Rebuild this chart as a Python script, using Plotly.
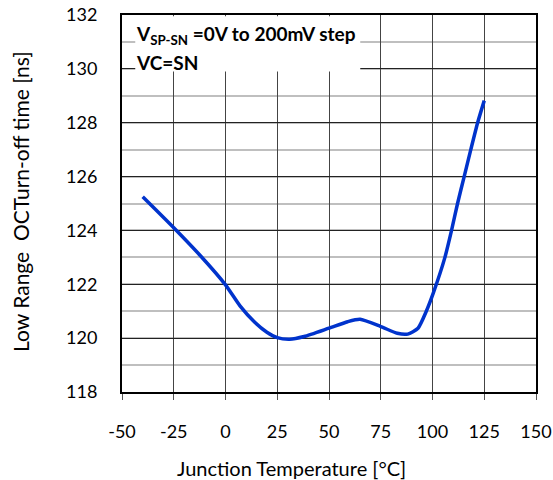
import plotly.graph_objects as go

temps = [-40, -25, -12, 0, 7, 14, 20, 25, 31, 38, 50, 59, 65, 75, 83, 88, 93, 97,
         100.5, 106, 109.2, 112.1, 115.3, 118.5, 121.8, 125]
toff = [125.25, 124.1, 123.05, 121.98, 121.2, 120.6, 120.22, 120.02, 119.96, 120.06,
        120.37, 120.61, 120.7, 120.43, 120.18, 120.15, 120.37, 121.0,
        121.7, 123.0, 124.0, 125.0, 126.0, 127.0, 128.0, 128.82]

x_ticks = [-50, -25, 0, 25, 50, 75, 100, 125, 150]
y_ticks = [118, 120, 122, 124, 126, 128, 130, 132]

FONT = "Lato"
L, R, T, B = 122, 17, 15, 88
PW, PH = 553 - L - R, 480 - T - B

def px_x(px):
    return (px - L) / PW

def px_y(py):
    return (480 - B - py) / PH

fig = go.Figure()
fig.add_trace(go.Scatter(x=temps, y=toff, mode="lines",
                         line=dict(color="#0033CC", width=3.5, shape="spline", smoothing=0.6),
                         showlegend=False, hoverinfo="skip"))

fig.update_layout(
    width=553, height=480,
    margin=dict(l=L, r=R, t=T, b=B, autoexpand=False),
    paper_bgcolor="white", plot_bgcolor="white",
    font=dict(family=FONT, size=18, color="black"),
    xaxis=dict(range=[-50, 150], tickvals=x_ticks, ticktext=[str(v) for v in x_ticks],
               showgrid=True, gridcolor="#444444", gridwidth=1,
               showline=True, linecolor="black", linewidth=2, mirror=True,
               ticks="outside", ticklen=6, tickcolor="#555555", ticklabelstandoff=16,
               zeroline=False, automargin=False, tickfont=dict(size=18)),
    yaxis=dict(range=[118, 132], tickvals=y_ticks, ticktext=[str(v) for v in y_ticks],
               showgrid=True, gridcolor="#222222", gridwidth=1,
               minor=dict(dtick=1, showgrid=True, gridcolor="#BFBFBF", gridwidth=1.5, ticks=""),
               showline=True, linecolor="black", linewidth=2, mirror=True,
               ticks="", ticklabelstandoff=19, zeroline=False, automargin=False,
               tickfont=dict(size=18)),
)

# white box behind the condition text
fig.add_shape(type="rect", xref="x", yref="y", x0=-43.6, x1=65.1, y0=129.9, y1=131.95,
              fillcolor="white", line=dict(width=0), layer="above")
fig.add_annotation(xref="paper", yref="paper", x=px_x(134), y=px_y(35),
                   xanchor="left", yanchor="middle", showarrow=False,
                   text="<b>V<sub>SP-SN</sub> =0V to 200mV step</b>", font=dict(size=19))
fig.add_annotation(xref="paper", yref="paper", x=px_x(134), y=px_y(63),
                   xanchor="left", yanchor="middle", showarrow=False,
                   text="<b>VC=SN</b>", font=dict(size=19))

# axis titles
fig.add_annotation(xref="paper", yref="paper", x=px_x(291.7), y=px_y(468),
                   xanchor="center", yanchor="middle", showarrow=False,
                   text="Junction Temperature [°C]", font=dict(size=20))
fig.add_annotation(xref="paper", yref="paper", x=px_x(20), y=px_y(202),
                   xanchor="center", yanchor="middle", showarrow=False, textangle=-90,
                   text="Low Range  OCTurn-off time [ns]", font=dict(size=21))

fig.write_html("out.html", config={"displayModeBar": False},
               post_script="document.body.style.margin='0';")
